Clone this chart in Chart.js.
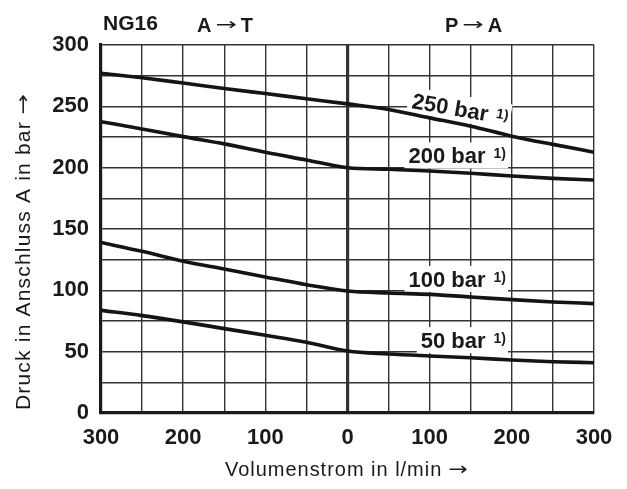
<!DOCTYPE html>
<html>
<head>
<meta charset="utf-8">
<script src="https://cdn.jsdelivr.net/npm/chart.js@4"></script>
<style>
html,body{margin:0;padding:0;background:#fff;}
#wrap{width:627px;height:489px;position:relative;}
</style>
</head>
<body>
<div id="wrap"><canvas id="c" width="627" height="489"></canvas></div>
<script>
// Flow (l/min): negative = A -> T side, positive = P -> A side
const flow = [-300, -250, -200, -150, -100, -50, 0, 50, 100, 150, 200, 250, 300];
const bar250 = [277, 273.3, 269, 264.6, 260.4, 256.2, 252, 247.4, 240.6, 233.8, 225.7, 219, 212.6];
const bar200 = [237.5, 231.6, 225.3, 219.4, 212.5, 206.3, 200, 198.7, 197.3, 195.4, 193.2, 191.3, 190];
const bar100 = [139, 131.8, 123.7, 117.4, 110.9, 104.6, 99.5, 97.8, 96.7, 94.6, 92.4, 90.5, 89.2];
const bar50  = [83.7, 79.4, 74.3, 68.8, 63.4, 57.7, 50.5, 48.1, 46.5, 45.1, 43.2, 41.8, 41];
const seriesNames = ['250 bar', '200 bar', '100 bar', '50 bar'];
const supText = '1)';
const xTickLabels = {'-300':'300','-200':'200','-100':'100','0':'0','100':'100','200':'200','300':'300'};
const yTickLabels = {'0':'0','50':'50','100':'100','150':'150','200':'200','250':'250','300':'300'};
const titleMain = 'NG16';
const titleLeft = ['A', 'T'];
const titleRight = ['P', 'A'];
const arrow = '\u2192';
const xTitle = 'Volumenstrom in l/min';
const yTitle = 'Druck in Anschluss A in bar';

const allSeries = [bar250, bar200, bar100, bar50];
const toPts = arr => flow.map((x, i) => ({x: x, y: arr[i]}));
function interp(arr, x){
  for(let i=0;i<flow.length-1;i++){
    if(x>=flow[i] && x<=flow[i+1]){
      const t=(x-flow[i])/(flow[i+1]-flow[i]);
      return arr[i]+t*(arr[i+1]-arr[i]);
    }
  }
  return arr[arr.length-1];
}

const FAM = '"Liberation Sans", Arial, sans-serif';
const ARW = '"DejaVu Sans", sans-serif';
const BOLD = 'bold 22px ' + FAM;
const SUP = 'bold 14px ' + FAM;

function drawLabel(ctx, main, x, y, angle){
  ctx.save();
  ctx.translate(x, y);
  ctx.rotate(angle);
  ctx.font = BOLD;
  const w = ctx.measureText(main).width;
  ctx.font = SUP;
  const ws = ctx.measureText(supText).width;
  const supX = w + 8;
  ctx.fillStyle = '#fff';
  ctx.fillRect(-4, -21, supX + ws + 6, 26);
  ctx.fillStyle = '#1a1a1a';
  ctx.textBaseline = 'alphabetic';
  ctx.textAlign = 'left';
  ctx.font = BOLD;
  ctx.fillText(main, 0, 0);
  ctx.font = SUP;
  ctx.fillText(supText, supX, -5);
  ctx.restore();
}

// draw a long thin arrow glyph starting at x, stretched horizontally
function drawArrow(ctx, x, y, size, stretch){
  ctx.save();
  ctx.font = 'normal ' + size + 'px ' + ARW;
  ctx.translate(x, y);
  ctx.scale(stretch, 1);
  ctx.textAlign = 'left';
  ctx.fillText(arrow, 0, 0);
  const w = ctx.measureText(arrow).width * stretch;
  ctx.restore();
  return w;
}

// axis title: text + arrow, spread to a target total width, centred at 0
function drawAxisTitle(ctx, text, size, total){
  ctx.font = 'normal ' + size + 'px ' + ARW;
  const wa = ctx.measureText(arrow).width * 1.3;
  ctx.font = 'normal ' + size + 'px ' + FAM;
  ctx.letterSpacing = '0px';
  const n = text.length;
  const w0 = ctx.measureText(text).width;
  const gap = size * 0.3;
  const extra = Math.max(0, total - (w0 + gap + wa));
  const ls = Math.min(1.2, extra / n);
  ctx.letterSpacing = ls.toFixed(2) + 'px';
  const w = ctx.measureText(text).width;
  const start = -(w + gap + wa) / 2;
  ctx.textAlign = 'left';
  ctx.fillText(text, start, 0);
  ctx.letterSpacing = '0px';
  drawArrow(ctx, start + w + gap, -1, size - 2, 1.3);
}

function drawTitlePair(ctx, pair, x, y){
  ctx.textAlign = 'left';
  ctx.font = 'bold 20px ' + FAM;
  ctx.fillText(pair[0], x, y);
  let cx = x + ctx.measureText(pair[0]).width + 4;
  cx += drawArrow(ctx, cx, y - 2, 17, 1.5) + 4;
  ctx.font = 'bold 20px ' + FAM;
  ctx.fillText(pair[1], cx, y);
}

const labelPlugin = {
  id: 'labels',
  beforeDatasetsDraw(chart){
    const ctx = chart.ctx;
    const xs = chart.scales.x, ys = chart.scales.y;
    const ax = 76;
    const p1x = xs.getPixelForValue(ax), p1y = ys.getPixelForValue(interp(bar250, ax));
    const angle = 10 * Math.PI / 180;
    drawLabel(ctx, seriesNames[0], p1x + 6*Math.sin(angle), p1y - 6*Math.cos(angle), angle);
    ctx.font = BOLD;
    const rightPx = xs.getPixelForValue(168);
    [1,2,3].forEach(i => {
      const arr = allSeries[i];
      const by = ys.getPixelForValue(interp(arr, 120)) - 8.5;
      const w = ctx.measureText(seriesNames[i]).width;
      drawLabel(ctx, seriesNames[i], rightPx - w, by, 0);
    });
  },
  afterDraw(chart){
    const ctx = chart.ctx;
    const ca = chart.chartArea;
    ctx.save();
    ctx.fillStyle = '#1a1a1a';
    ctx.textBaseline = 'alphabetic';
    ctx.textAlign = 'left';
    ctx.font = 'bold 21px ' + FAM;
    ctx.fillText(titleMain, 103, 30);
    drawTitlePair(ctx, titleLeft, 197, 32);
    drawTitlePair(ctx, titleRight, 445, 32);
    ctx.save();
    ctx.translate((ca.left + ca.right)/2, 476);
    drawAxisTitle(ctx, xTitle, 20, 245);
    ctx.restore();
    ctx.save();
    ctx.translate(30, 251);
    ctx.rotate(-Math.PI/2);
    drawAxisTitle(ctx, yTitle, 21, 318);
    ctx.restore();
    ctx.restore();
  }
};

const lineColor = '#141414';
const ds = allSeries.map((arr, i) => ({
  label: seriesNames[i],
  data: toPts(arr),
  borderColor: lineColor,
  borderWidth: 3.6,
  pointRadius: 0,
  fill: false,
  cubicInterpolationMode: 'monotone'
}));

new Chart(document.getElementById('c'), {
  type: 'line',
  data: { datasets: ds },
  plugins: [labelPlugin],
  options: {
    responsive: false,
    animation: false,
    events: [],
    layout: { padding: { top: 45, right: 33, left: 0, bottom: 0 } },
    plugins: { legend: { display: false }, tooltip: { enabled: false }, title: { display: false } },
    scales: {
      x: {
        type: 'linear', min: -300, max: 300,
        afterFit(s){ s.height = 76; },
        ticks: {
          stepSize: 50, autoSkip: false, maxRotation: 0, padding: 12,
          color: '#1a1a1a', font: { family: FAM, size: 22, weight: 'bold' },
          callback: v => (xTickLabels[String(v)] !== undefined ? xTickLabels[String(v)] : '')
        },
        grid: {
          color: '#333',
          lineWidth: c => (c.tick && c.tick.value === 0) ? 3.2 : 1.4,
          drawTicks: false
        },
        border: { display: true, color: '#1a1a1a', width: 3.2 }
      },
      y: {
        type: 'linear', min: 0, max: 300,
        afterFit(s){ s.width = 101; },
        ticks: {
          stepSize: 25, autoSkip: false, padding: 12,
          color: '#1a1a1a', font: { family: FAM, size: 22, weight: 'bold' },
          callback: v => (yTickLabels[String(v)] !== undefined ? yTickLabels[String(v)] : '')
        },
        grid: { color: '#333', lineWidth: 1.4, drawTicks: false },
        border: { display: true, color: '#1a1a1a', width: 3.2 }
      }
    }
  }
});
</script>
</body>
</html>
